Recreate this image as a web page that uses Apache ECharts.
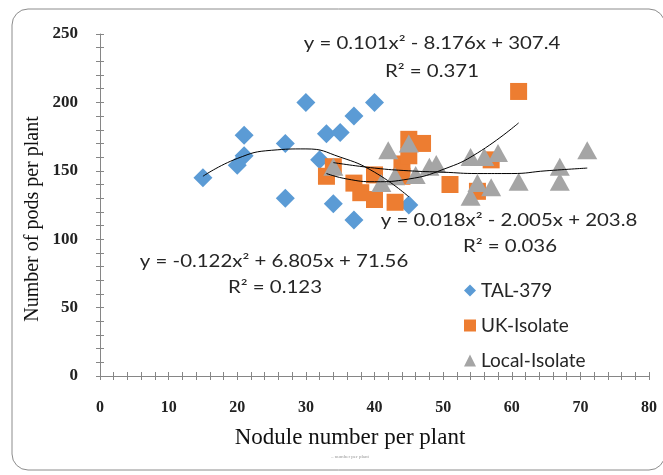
<!DOCTYPE html>
<html>
<head>
<meta charset="utf-8">
<script src="https://cdn.jsdelivr.net/npm/echarts@6/dist/echarts.min.js"></script>
<style>
  html, body { margin: 0; padding: 0; background: #fff; }
  #main { width: 663px; height: 475px; }
</style>
</head>
<body>
<div id="main"></div>
<script>
// axis ticks
var xTicks = [0, 10, 20, 30, 40, 50, 60, 70, 80];
var yTicks = [0, 50, 100, 150, 200, 250];

// nodule number, pods per plant
var talData = [[15, 145], [20, 154], [21, 161], [21, 176], [27, 170], [27, 130], [30, 200], [32, 158],
  [33, 177], [34, 126], [35, 178], [37, 190], [37, 114], [40, 200], [45, 125]];
var ukData = [[33, 146], [34, 153], [37, 141], [38, 134], [40, 129], [40, 147], [43, 127], [44, 146],
  [44, 155], [45, 161], [45, 173], [47, 170], [51, 140], [55, 135], [57, 158], [61, 208]];
var localData = [[34, 153], [41, 141], [42, 165], [43, 146], [45, 170], [46, 147], [48, 153], [49, 155],
  [54, 160], [54, 131], [55, 141], [56, 160], [57, 138], [58, 163], [61, 142], [67, 153], [67, 142], [71, 165]];

// trend lines
var talTrend = [[15, 146], [20, 159], [25, 165], [30, 166], [35, 160], [40, 149], [45, 131]];
var ukTrend = [[33, 148], [36, 144], [40, 142], [45, 144], [50, 151], [55, 163], [61, 185]];
var localTrend = [[34, 156], [40, 152], [45, 150], [50, 149], [55, 148], [60, 148], [65, 150], [71, 152]];

var axisGray = '#868686';
var eqFont = 'Lato';

function xAxisPart(inside) {
  return {
    type: 'value',
    position: 'bottom',
    min: xTicks[0],
    max: xTicks[xTicks.length - 1],
    interval: xTicks[1] - xTicks[0],
    axisLine: { show: !inside, onZero: false, lineStyle: { color: axisGray, width: 1 } },
    axisTick: { show: true, inside: inside, length: 4, lineStyle: { color: axisGray } },
    minorTick: { show: true, splitNumber: 5, length: 4, lineStyle: { color: axisGray } },
    axisLabel: {
      show: !inside, margin: 24, color: '#222',
      fontFamily: 'Liberation Serif', fontSize: 16, fontWeight: 'bold'
    },
    splitLine: { show: false },
    minorSplitLine: { show: false }
  };
}

function yAxisPart(inside) {
  return {
    type: 'value',
    position: 'left',
    min: yTicks[0],
    max: yTicks[yTicks.length - 1],
    interval: yTicks[1] - yTicks[0],
    axisLine: { show: !inside, onZero: false, lineStyle: { color: axisGray, width: 1 } },
    axisTick: { show: true, inside: inside, length: 4, lineStyle: { color: axisGray } },
    minorTick: { show: true, splitNumber: 5, length: 4, lineStyle: { color: axisGray } },
    axisLabel: {
      show: !inside, margin: 22, color: '#222',
      fontFamily: 'Liberation Serif', fontSize: 17, fontWeight: 'bold'
    },
    splitLine: { show: false },
    minorSplitLine: { show: false }
  };
}

function trendLine(data) {
  return {
    type: 'line',
    data: data,
    smooth: true,
    symbol: 'none',
    silent: true,
    z: 5,
    lineStyle: { color: '#000', width: 1 }
  };
}

// equation labels, stretched a bit to match the wide Calibri look
function eqText(x, y, str) {
  return {
    type: 'text',
    x: x, y: y,
    scaleX: 1.2,
    z: 10,
    style: {
      text: str,
      fill: '#262626',
      font: '17px ' + eqFont,
      textAlign: 'center',
      textVerticalAlign: 'middle'
    }
  };
}

var myChart = echarts.init(document.getElementById('main'));
var option = {
  animation: false,
  backgroundColor: '#fff',
  grid: { left: 100, right: 14, top: 34, bottom: 99, containLabel: false },
  xAxis: [xAxisPart(false), xAxisPart(true)],
  yAxis: [yAxisPart(false), yAxisPart(true)],
  legend: {
    orient: 'vertical',
    left: 459,
    top: 276,
    itemWidth: 12,
    itemHeight: 12,
    itemGap: 16,
    data: ['TAL-379', 'UK-Isolate', 'Local-Isolate'],
    textStyle: { fontFamily: eqFont, fontSize: 19, lineHeight: 19, color: '#262626' }
  },
  series: [
    {
      name: 'TAL-379', type: 'scatter', symbol: 'diamond', symbolSize: 19,
      itemStyle: { color: '#5B9BD5', opacity: 1 }, data: talData
    },
    {
      name: 'UK-Isolate', type: 'scatter', symbol: 'rect', symbolSize: 17,
      itemStyle: { color: '#ED7D31', opacity: 1 }, data: ukData
    },
    {
      name: 'Local-Isolate', type: 'scatter', symbol: 'triangle', symbolSize: [20, 18],
      itemStyle: { color: '#A5A5A5', opacity: 1 }, data: localData
    },
    trendLine(talTrend),
    trendLine(ukTrend),
    trendLine(localTrend)
  ],
  graphic: [
    // outer frame
    {
      type: 'rect', z: -1, silent: true,
      shape: { x: 12, y: 9, width: 653, height: 461, r: 16 },
      style: { fill: 'none', stroke: '#8c8c8c', lineWidth: 1 }
    },
    eqText(432, 44, 'y = 0.101x² - 8.176x + 307.4'),
    eqText(432, 72, 'R² = 0.371'),
    eqText(509, 221, 'y = 0.018x² - 2.005x + 203.8'),
    eqText(510, 247, 'R² = 0.036'),
    eqText(274, 262, 'y = -0.122x² + 6.805x + 71.56'),
    eqText(275, 288, 'R² = 0.123'),
    // axis titles
    {
      type: 'text', x: 350, y: 438,
      style: { text: 'Nodule number per plant', fill: '#111', font: '23px Liberation Serif', textAlign: 'center', textVerticalAlign: 'middle' }
    },
    {
      type: 'text', x: 350, y: 457,
      style: { text: '– number per plant', fill: '#999', font: '5px Liberation Serif', textAlign: 'center', textVerticalAlign: 'middle' }
    },
    {
      type: 'text', x: 33, y: 219, rotation: Math.PI / 2,
      style: { text: 'Number of pods per plant', fill: '#111', font: '20px Liberation Serif', textAlign: 'center', textVerticalAlign: 'middle' }
    }
  ]
};
myChart.setOption(option);
</script>
</body>
</html>
